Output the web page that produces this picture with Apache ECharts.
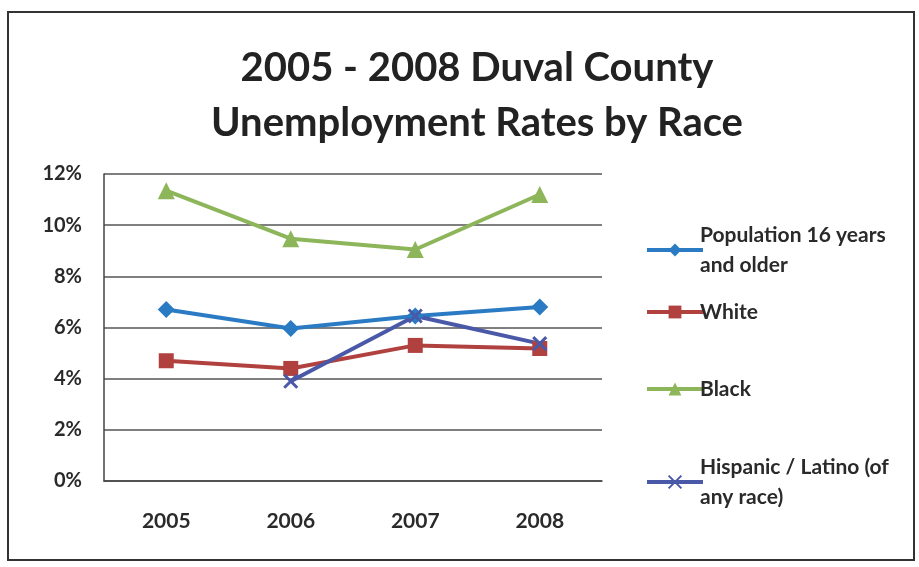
<!DOCTYPE html>
<html><head><meta charset="utf-8">
<script src="https://cdn.jsdelivr.net/npm/echarts@6/dist/echarts.min.js"></script>
<style>html,body{margin:0;padding:0;background:#fff}#c{width:919px;height:567px}</style>
</head><body><div id="c"></div>
<script>
const years = ['2005','2006','2007','2008'];
const population = [6.7, 5.96, 6.45, 6.8];
const white = [4.7, 4.4, 5.3, 5.18];
const black = [11.35, 9.47, 9.05, 11.2];
const hispanic = [null, 3.9, 6.45, 5.37];
const yTicks = [0, 2, 4, 6, 8, 10, 12];

const names = ['Population 16 years and older','White','Black','Hispanic / Latino (of any race)'];
const colors = ['#2a7bc4','#b0413e','#8db55a','#4a58a8'];
const symbols = ['diamond','rect','triangle','path://M0,0 L10,10 M10,0 L0,10'];
const data = [population, white, black, hispanic];
const font = 'Lato, "Open Sans", sans-serif';

const chart = echarts.init(document.getElementById('c'));
const legendTops = [215, 292, 369, 447];
const labels = {
  'Population 16 years and older':'Population 16 years\nand older',
  'Hispanic / Latino (of any race)':'Hispanic / Latino (of\nany race)'
};
chart.setOption({
  animation:false,
  backgroundColor:'#fff',
  title:{
    text:'2005 - 2008 Duval County\nUnemployment Rates by Race',
    left:472, textAlign:'center', top:36,
    textStyle:{fontFamily:font, fontWeight:'bold', fontSize:40, lineHeight:55, color:'#222'}
  },
  graphic:[{type:'rect', shape:{x:8,y:12,width:906,height:548}, style:{fill:'none', stroke:'#333', lineWidth:2}}],
  legend: names.map((n,i)=>({
    data:[n], left:640, top:legendTops[i], orient:'vertical',
    itemWidth:56, itemHeight:16, itemGap:0,
    lineStyle:{width:4},
    formatter: nm => labels[nm] || nm,
    textStyle:{fontFamily:font, fontWeight:'bold', fontSize:21, color:'#2a2a2a', lineHeight:30, padding:[0,0,0,-8]}
  })),
  grid:{left:104, right:317, top:174, bottom:86, containLabel:false},
  xAxis:{
    type:'category', data:years, boundaryGap:true,
    axisLine:{lineStyle:{color:'#444', width:1.5}},
    axisTick:{show:false},
    axisLabel:{fontFamily:font, fontWeight:'bold', fontSize:21, color:'#2a2a2a', margin:30}
  },
  yAxis:{
    type:'value', min:0, max:12, interval:2,
    axisLine:{show:true, lineStyle:{color:'#444', width:1.5}},
    axisTick:{show:false},
    splitLine:{lineStyle:{color:'#555', width:1.5}},
    axisLabel:{fontFamily:font, fontWeight:'bold', fontSize:20, color:'#2a2a2a', margin:22, formatter: v => v + '%'}
  },
  series: names.map((n,i)=>({
    name:n, type:'line', data:data[i], connectNulls:false,
    symbol:symbols[i], symbolSize: i===1 ? 15 : (i===3 ? 13 : 17),
    lineStyle:{color:colors[i], width:4},
    itemStyle:{color:colors[i], borderColor:colors[i], borderWidth: i===3 ? 3 : 0}
  }))
});
</script></body></html>
